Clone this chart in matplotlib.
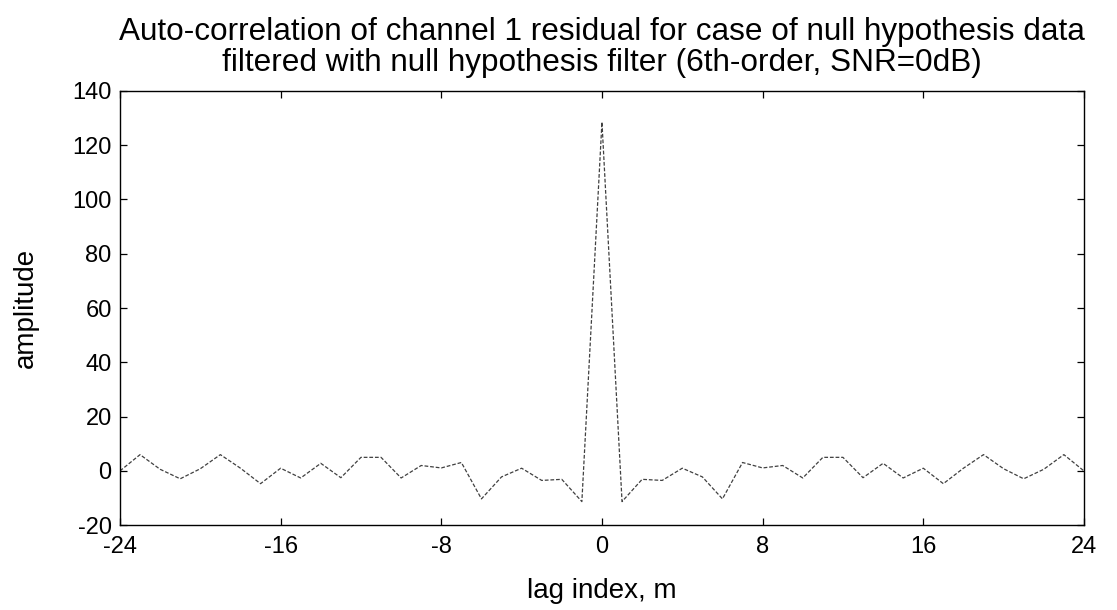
import numpy as np
import matplotlib
matplotlib.use("Agg")
import matplotlib.pyplot as plt

plt.rcParams['font.family'] = ['Liberation Sans', 'DejaVu Sans']
plt.rcParams['axes.unicode_minus'] = False

# lag values 1..24 (auto-correlation is symmetric about 0)
pos_lags = np.arange(1, 25)
pos_vals = [-11.3, -3.1, -3.5, 1.0, -2.2, -10.3, 3.1, 1.1, 2.0, -2.6, 5.0, 5.0,
            -2.5, 2.8, -2.6, 1.0, -4.7, 1.0, 6.0, 0.8, -2.9, 0.6, 6.0, 0.0]
peak_val = 128.5

lags = np.concatenate([-pos_lags[::-1], [0], pos_lags])
vals = np.concatenate([pos_vals[::-1], [peak_val], pos_vals])

xticks = [-24, -16, -8, 0, 8, 16, 24]
yticks = [-20, 0, 20, 40, 60, 80, 100, 120, 140]

fig = plt.figure(figsize=(11.17, 6.10), dpi=100)
# axes box: x 120..1084 px, y 91..525 px
ax = fig.add_axes([0.1074, 0.139, 0.863, 0.712])

ax.plot(lags, vals, color='#404040', lw=0.9, ls=(0, (3, 1.5)))

ax.set_xlim(-24, 24)
ax.set_ylim(-20, 140)
ax.set_xticks(xticks)
ax.set_yticks(yticks)
ax.tick_params(direction='in', top=True, right=True, labelsize=17, length=5, width=0.9)
ax.tick_params(axis='x', pad=8)
ax.tick_params(axis='y', pad=6)
for s in ax.spines.values():
    s.set_linewidth(1.0)

ax.set_xlabel('lag index, m', fontsize=20, labelpad=14)
ax.set_ylabel('amplitude', fontsize=20, labelpad=24)
ax.set_title('Auto-correlation of channel 1 residual for case of null hypothesis data\n'
             'filtered with null hypothesis filter (6th-order, SNR=0dB)',
             fontsize=22.7, linespacing=1.05, pad=14)

fig.savefig('out.png', dpi=100)
